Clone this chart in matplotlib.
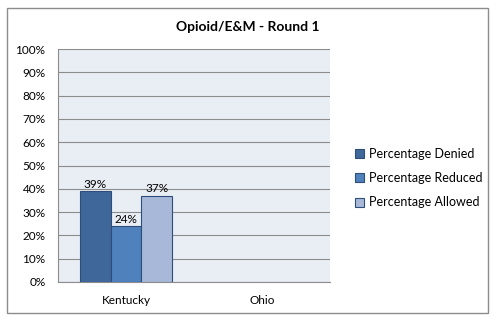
import matplotlib.pyplot as plt
from matplotlib.patches import Rectangle
import numpy as np

plt.rcParams['font.family'] = ['Lato', 'DejaVu Sans']

regions = ["Kentucky", "Ohio"]
series = ["Percentage Denied", "Percentage Reduced", "Percentage Allowed"]
denied = [39, None]
reduced = [24, None]
allowed = [37, None]
colors = ["#3F679A", "#4F81BD", "#A8B8D8"]

fig = plt.figure(figsize=(4.97, 3.25), dpi=100)
fig.patches.append(Rectangle((7 / 497, 1 - 313 / 325), 481 / 497, 305 / 325,
                             transform=fig.transFigure, fill=False,
                             edgecolor="#8C8C8C", linewidth=1.0))

ax = fig.add_axes([58 / 497, 1 - 282 / 325, 272 / 497, 233 / 325])
ax.set_facecolor("#E9EDF4")

x = np.arange(len(regions))
w = 0.226
for i, (name, vals) in enumerate(zip(series, [denied, reduced, allowed])):
    xs = [xi + (i - 1) * w for xi, v in zip(x, vals) if v is not None]
    vs = [v for v in vals if v is not None]
    bars = ax.bar(xs, vs, width=w, color=colors[i], edgecolor="#2E4D78",
                  linewidth=0.8, label=name, zorder=3)
    for b, v in zip(bars, vs):
        ax.text(b.get_x() + b.get_width() / 2, v + 0.6, f"{v}%",
                ha="center", va="bottom", fontsize=8.5, zorder=4)

ax.set_xlim(-0.5, 1.5)
ax.set_ylim(0, 100)
ax.set_yticks(range(0, 101, 10))
ax.set_yticklabels([f"{t}%" for t in range(0, 101, 10)])
ax.set_xticks(x)
ax.set_xticklabels(regions)
ax.tick_params(axis="both", length=0, labelsize=8.5)
ax.tick_params(axis="y", pad=9)
ax.tick_params(axis="x", pad=9)
ax.grid(axis="y", color="#8C8C8C", linewidth=0.8, zorder=0)
for s in ["top", "right"]:
    ax.spines[s].set_visible(False)
for s in ["left", "bottom"]:
    ax.spines[s].set_color("#8C8C8C")

fig.text(248 / 497, 1 - 27 / 325, "Opioid/E&M - Round 1", ha="center",
         va="center", fontsize=10, fontweight="bold")

fig.legend(loc="center left", bbox_to_anchor=(344 / 497, 1 - 178 / 325),
           frameon=False, fontsize=9, handlelength=0.7, handleheight=0.7,
           handletextpad=0.4, labelspacing=1.0)

fig.savefig("out.png", dpi=100)
